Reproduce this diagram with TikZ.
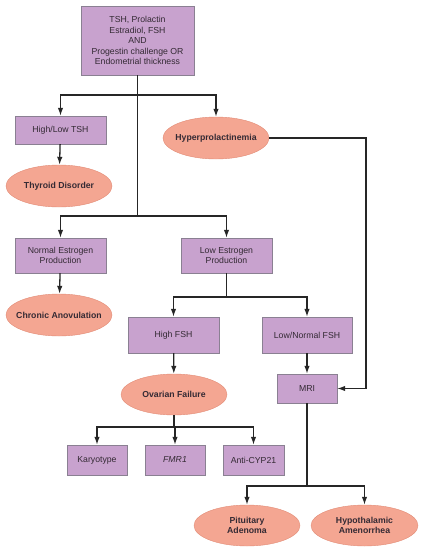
\documentclass[tikz,border=0pt]{standalone}
\usepackage{fontspec}
\setmainfont{Liberation Sans}
\usepackage{xcolor}
\usepackage{tikz}
\usetikzlibrary{arrows.meta,calc,positioning,shapes.geometric}
\definecolor{boxlilac}{RGB}{200,162,206}
\definecolor{boxedge}{RGB}{138,128,146}
\definecolor{ovalsalmon}{RGB}{244,166,146}
\definecolor{ovaledge}{RGB}{226,140,118}
\definecolor{inkgrey}{RGB}{52,42,52}
\tikzset{
  testbox/.style={draw=boxedge,fill=boxlilac,text=inkgrey,align=center,
    inner sep=2pt,font=\fontsize{8.7}{10.5}\selectfont},
  findingoval/.style={ellipse,draw=ovaledge,fill=ovalsalmon,text=inkgrey,
    align=center,inner xsep=-8pt,inner ysep=0pt,
    font=\fontsize{8.7}{10.5}\selectfont\bfseries},
  link/.style={line width=1.3pt,draw=black!85},
  flow/.style={link,-{Latex[length=8pt,width=5.5pt]}}
}

\begin{document}
\begin{tikzpicture}[x=1pt,y=-1pt]
  \useasboundingbox (0,0) rectangle (424,555);
  % tests and findings
  \node[testbox,minimum width=113pt,minimum height=69pt] (labs) at (137.5,40.5)
    {TSH, Prolactin\\Estradiol, FSH\\AND\\Progestin challenge OR\\Endometrial thickness};
  \node[testbox,minimum width=91pt,minimum height=28pt] (tsh) at (60.5,130) {High/Low TSH};
  \node[findingoval,minimum width=106pt,minimum height=42pt] (thyroid) at (59,186) {Thyroid Disorder};
  \node[findingoval,minimum width=106pt,minimum height=42pt] (hyperprl) at (216,138) {Hyperprolactinemia};
  \node[testbox,minimum width=91pt,minimum height=35pt] (normest) at (60.5,255.5) {Normal Estrogen\\Production};
  \node[testbox,minimum width=91pt,minimum height=35pt] (lowest) at (226.5,255.5) {Low Estrogen\\Production};
  \node[findingoval,minimum width=106pt,minimum height=42pt] (anovul) at (59,315) {Chronic Anovulation};
  \node[testbox,minimum width=91pt,minimum height=36pt] (highfsh) at (173.5,335) {High FSH};
  \node[testbox,minimum width=90pt,minimum height=36pt] (lowfsh) at (307,335) {Low/Normal FSH};
  \node[findingoval,minimum width=106pt,minimum height=41pt] (ovarian) at (174,394.5) {Ovarian Failure};
  \node[testbox,minimum width=60pt,minimum height=29pt] (mri) at (307,388.5) {MRI};
  \node[testbox,minimum width=60pt,minimum height=30pt] (karyo) at (97,460) {Karyotype};
  \node[testbox,minimum width=60pt,minimum height=30pt] (fmr) at (175,460) {\itshape FMR1};
  \node[testbox,minimum width=61pt,minimum height=30pt] (anticyp) at (253.5,460) {Anti-CYP21};
  \node[findingoval,minimum width=106pt,minimum height=41pt] (pituitary) at (247,525.5) {Pituitary\\Adenoma};
  \node[findingoval,minimum width=107pt,minimum height=41pt] (hypothal) at (364.5,525.5) {Hypothalamic\\Amenorrhea};
  % branch points
  \coordinate (splitA) at (137.5,95);
  \coordinate (splitB) at (137.5,216);
  \coordinate (splitC) at (226.5,297);
  \coordinate (splitD) at (174,427);
  \coordinate (splitE) at (307,486);
  \coordinate (rail) at (366,250);
  % connectors
  \draw[link] (labs.south) -- (splitB);
  \foreach \dst in {tsh,hyperprl}
    \draw[flow] (splitA) -| (\dst.north);
  \foreach \dst in {normest,lowest}
    \draw[flow] (splitB) -| (\dst.north);
  \draw[flow] (tsh) -- (thyroid);
  \draw[flow] (normest) -- (anovul);
  \draw[link] (lowest.south) -- (splitC);
  \foreach \dst in {highfsh,lowfsh}
    \draw[flow] (splitC) -| (\dst.north);
  \draw[flow] (highfsh) -- (ovarian);
  \draw[flow] (lowfsh) -- (mri);
  \draw[flow] (hyperprl.east) -| (rail) |- (mri.east);
  \draw[link] (ovarian.south) -- (splitD);
  \foreach \dst in {karyo,fmr,anticyp}
    \draw[flow] (splitD) -| (\dst.north);
  \draw[link] (mri.south) -- (splitE);
  \foreach \dst in {pituitary,hypothal}
    \draw[flow] (splitE) -| (\dst.north);
\end{tikzpicture}
\end{document}
